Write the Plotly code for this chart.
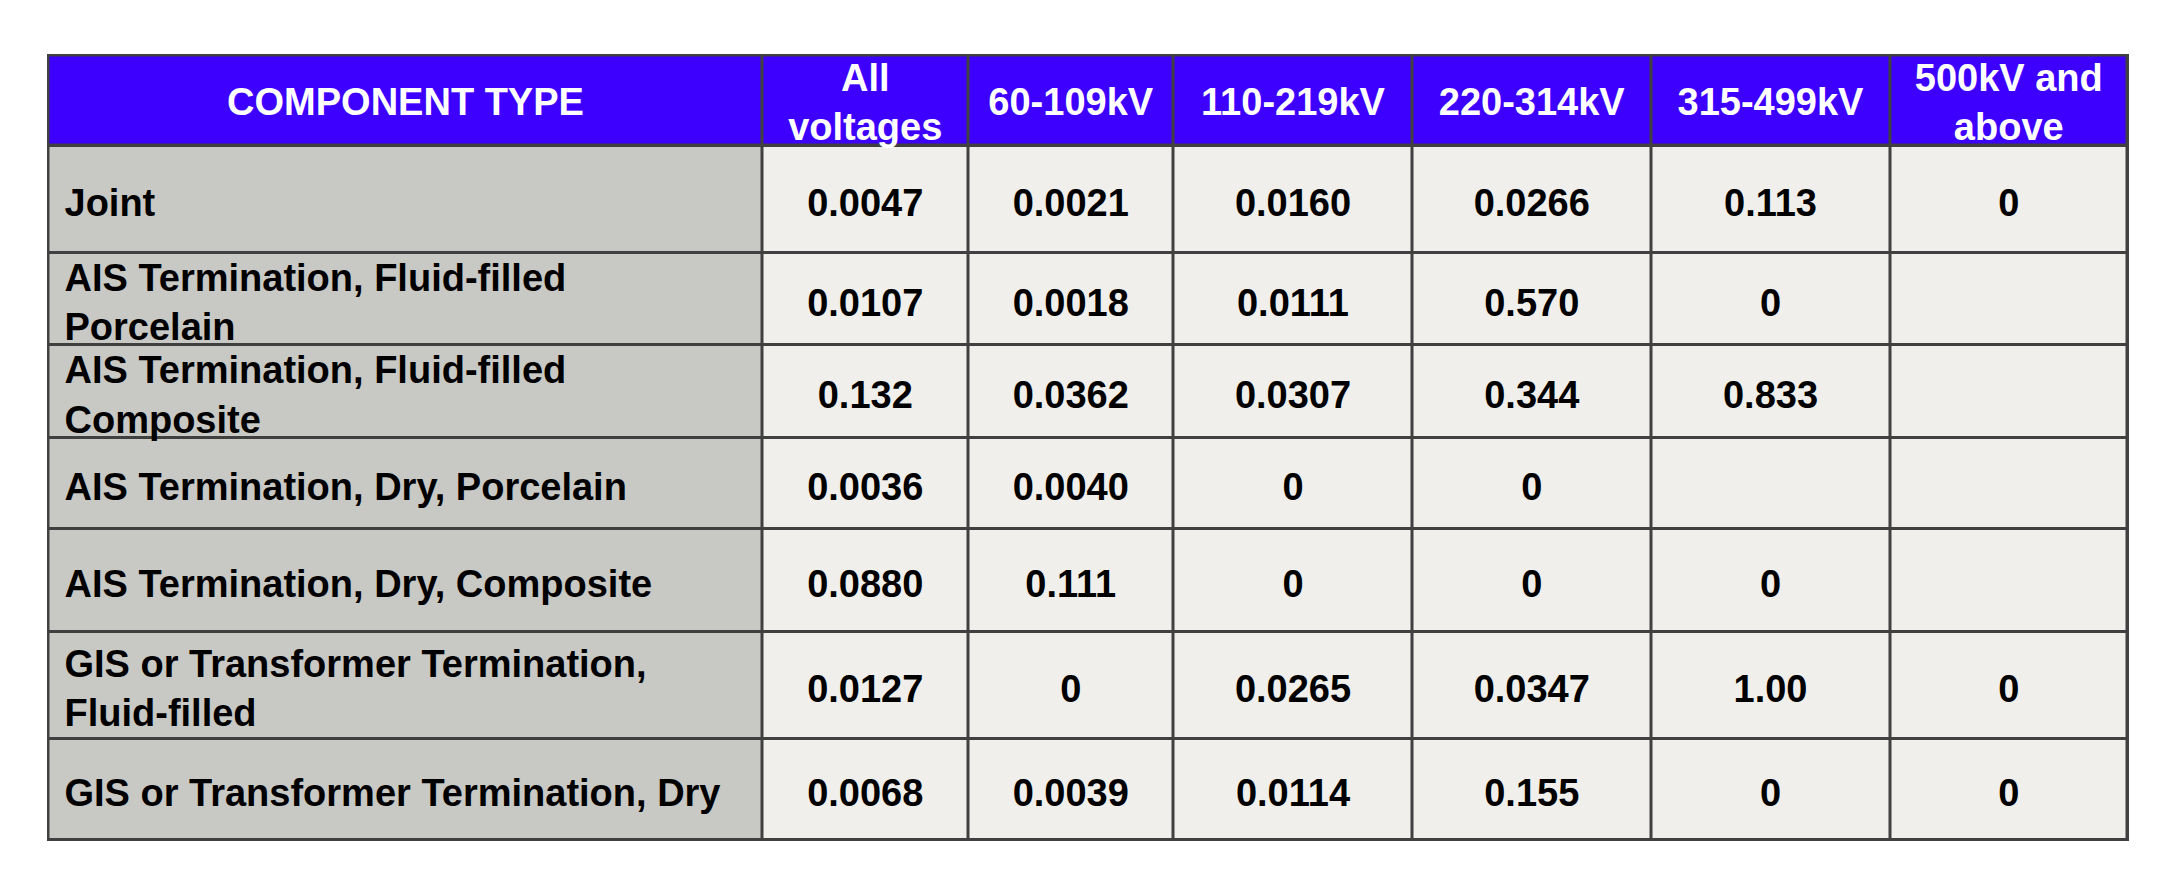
import numpy as np
import plotly.graph_objects as go

# ---------------- data ----------------
header_labels = ["COMPONENT TYPE", "All<br>voltages", "60-109kV", "110-219kV",
                 "220-314kV", "315-499kV", "500kV and<br>above"]
component_types = [
    "Joint",
    "AIS Termination, Fluid-filled<br>Porcelain",
    "AIS Termination, Fluid-filled<br>Composite",
    "AIS Termination, Dry, Porcelain",
    "AIS Termination, Dry, Composite",
    "GIS or Transformer Termination,<br>Fluid-filled",
    "GIS or Transformer Termination, Dry",
]
all_voltages = ["0.0047", "0.0107", "0.132", "0.0036", "0.0880", "0.0127", "0.0068"]
kv_60_109 = ["0.0021", "0.0018", "0.0362", "0.0040", "0.111", "0", "0.0039"]
kv_110_219 = ["0.0160", "0.0111", "0.0307", "0", "0", "0.0265", "0.0114"]
kv_220_314 = ["0.0266", "0.570", "0.344", "0", "0", "0.0347", "0.155"]
kv_315_499 = ["0.113", "0", "0.833", "", "0", "1.00", "0"]
kv_500_up = ["0", "", "", "", "", "0", "0"]

# ---------------- layout / style ----------------
col_widths = [714, 205.5, 205.5, 239, 238.5, 239, 237.5]
header_height = 90.5
row_heights = [107, 92.5, 92.5, 91, 103, 107, 101]
FONT = "Liberation Sans, Arial, sans-serif"
FS = 38
HEADER_BG = "#3D00FF"
FIRST_COL_BG = "#C8C8C4"
CELL_BG = "#F0EFEB"
LINE = "#404040"
GAP = 3
PAD = 16
LABEL_DY = 7      # small downward nudge of the text baseline
VALUE_DY = 7
HEADER_DY = 5

PAGE_MARGIN = 8          # default body margin of the html page
W, H = 2178 - PAGE_MARGIN, 893 - PAGE_MARGIN
table_left, table_top = 48.5 - PAGE_MARGIN, 55.5 - PAGE_MARGIN

x_edges = np.concatenate([[0.0], np.cumsum(col_widths)])
x_centers = (x_edges[:-1] + x_edges[1:]) / 2
body_edges = header_height + np.concatenate([[0.0], np.cumsum(row_heights)])
body_centers = (body_edges[:-1] + body_edges[1:]) / 2
total_w = x_edges[-1]
total_h = body_edges[-1]

value_columns = [all_voltages, kv_60_109, kv_110_219, kv_220_314, kv_315_499, kv_500_up]
n_rows = len(component_types)
body_z = [[0] + [1] * len(value_columns) for _ in range(n_rows)]

bold = dict(family=FONT, size=FS, weight="bold")

fig = go.Figure()

# cell fills (gaps show the dark grid colour behind)
fig.add_trace(go.Heatmap(
    z=[[0] * len(header_labels)], x=x_edges, y=[0, header_height],
    colorscale=[[0, HEADER_BG], [1, HEADER_BG]], zmin=0, zmax=1,
    showscale=False, xgap=GAP, ygap=GAP, hoverinfo="skip",
))
fig.add_trace(go.Heatmap(
    z=body_z, x=x_edges, y=body_edges,
    colorscale=[[0, FIRST_COL_BG], [1, CELL_BG]], zmin=0, zmax=1,
    showscale=False, xgap=GAP, ygap=GAP, hoverinfo="skip",
))

# header text
fig.add_trace(go.Scatter(
    x=x_centers, y=[header_height / 2 + HEADER_DY] * len(header_labels),
    text=header_labels, mode="text", textposition="middle center",
    textfont=dict(color="white", **bold), hoverinfo="skip",
))

# component type labels
fig.add_trace(go.Scatter(
    x=[x_edges[0] + PAD] * n_rows, y=body_centers + LABEL_DY, text=component_types,
    mode="text", textposition="middle right",
    textfont=dict(color="black", **bold), hoverinfo="skip",
))

# values
vx, vy, vt = [], [], []
for j, col in enumerate(value_columns):
    for r, v in enumerate(col):
        vx.append(x_centers[j + 1])
        vy.append(body_centers[r] + VALUE_DY)
        vt.append(v)
fig.add_trace(go.Scatter(
    x=vx, y=vy, text=vt, mode="text", textposition="middle center",
    textfont=dict(color="black", **bold), hoverinfo="skip",
))

half = GAP / 2
fig.update_layout(
    width=W, height=H,
    margin=dict(l=table_left - half, r=W - (table_left + total_w) - half,
                t=table_top - half, b=H - (table_top + total_h) - half, pad=0),
    paper_bgcolor="white", plot_bgcolor=LINE,
    showlegend=False,
    xaxis=dict(range=[-half, total_w + half], visible=False, fixedrange=True),
    yaxis=dict(range=[total_h + half, -half], visible=False, fixedrange=True),
)

fig.write_html("out.html")
